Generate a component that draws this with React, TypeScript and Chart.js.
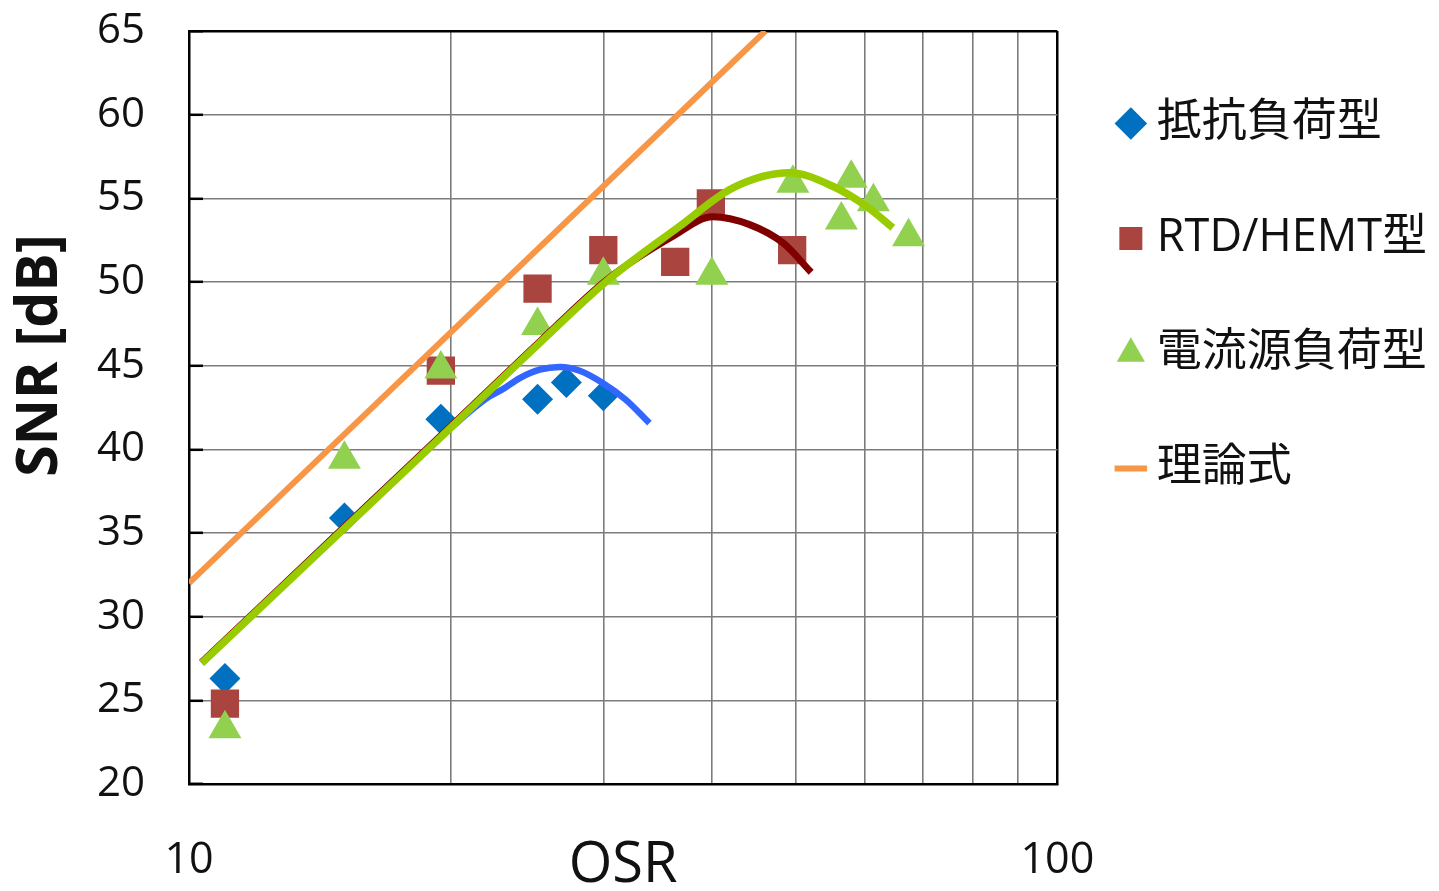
import React, { useEffect, useRef } from "react";
import { Chart, registerables } from "chart.js";

Chart.register(...registerables);

// ---- Data ----
const RES_OSR = [11.0, 15.1, 19.5, 25.2, 27.2, 30.0];
const RES_SNR = [26.3, 35.9, 41.8, 43.0, 44.0, 43.2];

const RTD_OSR = [11.0, 19.5, 25.2, 30.0, 36.3, 39.9, 49.5];
const RTD_SNR = [24.8, 44.7, 49.6, 51.9, 51.2, 54.7, 51.9];

const CUR_OSR = [11.0, 15.1, 19.5, 25.2, 30.0, 40.0, 49.6, 56.4, 57.9, 61.4, 67.4];
const CUR_SNR = [23.3, 39.4, 44.8, 47.4, 50.4, 50.4, 55.9, 53.7, 56.2, 54.8, 52.7];

const THEORY_OSR = [10, 46.1];
const THEORY_SNR = [32.0, 65.0];

const RES_FIT_OSR = [10.34, 19.45, 22.01, 23.0, 24.04, 25.34, 26.73, 28.18, 29.95, 31.83, 33.9];
const RES_FIT_SNR = [27.22, 40.68, 43.05, 43.6, 44.26, 44.76, 44.92, 44.7, 43.97, 42.97, 41.57];

const RTD_FIT_OSR = [10.34, 19.45, 25.34, 30.25, 36.08, 40.1, 44.22, 48.3, 52.06];
const RTD_FIT_SNR = [27.28, 40.76, 46.43, 50.11, 52.73, 53.9, 53.43, 52.34, 50.58];

const CUR_FIT_OSR = [10.34, 19.45, 25.34, 30.25, 36.73, 42.31, 49.16, 55.12, 60.25, 64.65];
const CUR_FIT_SNR = [27.22, 40.68, 46.36, 50.04, 53.33, 55.63, 56.53, 55.72, 54.53, 53.24];

const SERIES_NAMES = ["抵抗負荷型", "RTD/HEMT型", "電流源負荷型", "理論式"];
const X_GRID = [10, 20, 30, 40, 50, 60, 70, 80, 90, 100];
const X_LABELED_TICKS = [10, 100];
const Y_MIN = 20;
const Y_MAX = 65;
const Y_STEP = 5;
const X_MIN = 10;
const X_MAX = 100;
const X_TITLE = "OSR";
const Y_TITLE = "SNR [dB]";

const FONT = "'Open Sans', 'Noto Sans CJK JP', sans-serif";
const GRID_COLOR = "#7c7c7c";

const pts = (xs: number[], ys: number[]) => xs.map((x, i) => ({ x, y: ys[i] }));

const yTitlePlugin = {
  id: "yTitle",
  afterDraw(chart: any) {
    const { ctx, chartArea } = chart;
    ctx.save();
    ctx.font = `bold 57px ${FONT}`;
    ctx.fillStyle = "#111";
    ctx.textAlign = "center";
    ctx.textBaseline = "middle";
    ctx.translate(41, chartArea.top + (chartArea.bottom - chartArea.top) * 0.431);
    ctx.rotate(-Math.PI / 2);
    ctx.fillText(Y_TITLE, 0, 0);
    ctx.restore();
  },
};

export default function App() {
  const ref = useRef<HTMLCanvasElement | null>(null);

  useEffect(() => {
    if (!ref.current) return;
    const chart = new Chart(ref.current, {
      type: "scatter",
      data: {
        datasets: [
          {
            label: SERIES_NAMES[0],
            data: pts(RES_OSR, RES_SNR),
            pointStyle: "rectRot",
            pointRadius: 15.5,
            backgroundColor: "#0070C0",
            borderColor: "#0070C0",
            pointBorderWidth: 0,
            order: 6,
          },
          {
            label: SERIES_NAMES[1],
            data: pts(RTD_OSR, RTD_SNR),
            pointStyle: "rect",
            pointRadius: 20,
            backgroundColor: "#A9443F",
            borderColor: "#A9443F",
            pointBorderWidth: 0,
            order: 5,
          },
          {
            label: SERIES_NAMES[2],
            data: pts(CUR_OSR, CUR_SNR),
            pointStyle: "triangle",
            pointRadius: 19,
            backgroundColor: "#92D050",
            borderColor: "#92D050",
            pointBorderWidth: 0,
            order: 4,
          },
          {
            label: SERIES_NAMES[3],
            data: pts(THEORY_OSR, THEORY_SNR),
            showLine: true,
            pointRadius: 0,
            pointStyle: "line",
            borderColor: "#F79646",
            backgroundColor: "#F79646",
            pointBorderColor: "#F79646",
            pointBorderWidth: 6,
            borderWidth: 6,
            tension: 0,
            order: 3,
          },
          {
            label: "fit-res",
            data: pts(RES_FIT_OSR, RES_FIT_SNR),
            showLine: true,
            pointRadius: 0,
            borderColor: "#3366FF",
            borderWidth: 6.5,
            cubicInterpolationMode: "monotone",
            order: 2,
          },
          {
            label: "fit-rtd",
            data: pts(RTD_FIT_OSR, RTD_FIT_SNR),
            showLine: true,
            pointRadius: 0,
            borderColor: "#800000",
            borderWidth: 7,
            cubicInterpolationMode: "monotone",
            order: 1,
          },
          {
            label: "fit-cur",
            data: pts(CUR_FIT_OSR, CUR_FIT_SNR),
            showLine: true,
            pointRadius: 0,
            borderColor: "#99CC00",
            borderWidth: 7.5,
            cubicInterpolationMode: "monotone",
            order: 0,
          },
        ] as any,
      },
      options: {
        responsive: false,
        animation: false,
        events: [],
        layout: { padding: { top: 31, right: 2, bottom: 0, left: 0 } },
        plugins: {
          tooltip: { enabled: false },
          legend: {
            position: "right",
            align: "start",
            maxWidth: 420,
            labels: {
              usePointStyle: true,
              boxWidth: 7,
              boxHeight: 23,
              padding: 70,
              color: "#111",
              font: { family: FONT, size: 45 },
              filter: (item: any) => item.datasetIndex < 4,
              sort: (a: any, b: any) => a.datasetIndex - b.datasetIndex,
            },
          },
        },
        scales: {
          x: {
            type: "logarithmic",
            min: X_MIN,
            max: X_MAX,
            afterBuildTicks: (scale: any) => {
              scale.ticks = X_GRID.map((v) => ({ value: v }));
            },
            afterFit: (scale: any) => {
              scale.height = 107;
              scale.paddingLeft = 0;
              scale.paddingRight = 0;
            },
            border: { display: true, color: "#000", width: 2.5 },
            grid: {
              drawTicks: false,
              color: (c: any) => (c.tick && c.tick.value === X_MAX ? "#000" : GRID_COLOR),
              lineWidth: (c: any) => (c.tick && c.tick.value === X_MAX ? 2.5 : 1.6),
            },
            ticks: {
              autoSkip: false,
              maxRotation: 0,
              padding: 51,
              color: "#111",
              font: { family: FONT, size: 43 },
              callback: (v: any) => (X_LABELED_TICKS.includes(Number(v)) ? String(v) : ""),
            },
            title: {
              display: true,
              text: X_TITLE,
              color: "#111",
              font: { family: FONT, size: 56, lineHeight: 1 },
              padding: { top: 0, bottom: -3 },
            },
          },
          y: {
            type: "linear",
            min: Y_MIN,
            max: Y_MAX,
            afterFit: (scale: any) => {
              scale.width = 189;
              scale.paddingTop = 0;
              scale.paddingBottom = 0;
            },
            border: { display: true, color: "#000", width: 2.5 },
            grid: {
              drawTicks: true,
              tickLength: -14,
              tickColor: "#000",
              tickWidth: 2.5,
              color: (c: any) => (c.tick && c.tick.value === Y_MAX ? "#000" : GRID_COLOR),
              lineWidth: (c: any) => (c.tick && c.tick.value === Y_MAX ? 2.5 : 1.6),
            },
            ticks: {
              stepSize: Y_STEP,
              padding: 58,
              color: "#111",
              font: { family: FONT, size: 42 },
            },
          },
        },
      } as any,
      plugins: [yTitlePlugin],
    });
    return () => chart.destroy();
  }, []);

  return (
    <div style={{ position: "fixed", left: 0, top: 0, width: 1439, height: 891, background: "#fff" }}>
      <canvas ref={ref} width={1439} height={891} style={{ display: "block" }} />
    </div>
  );
}
